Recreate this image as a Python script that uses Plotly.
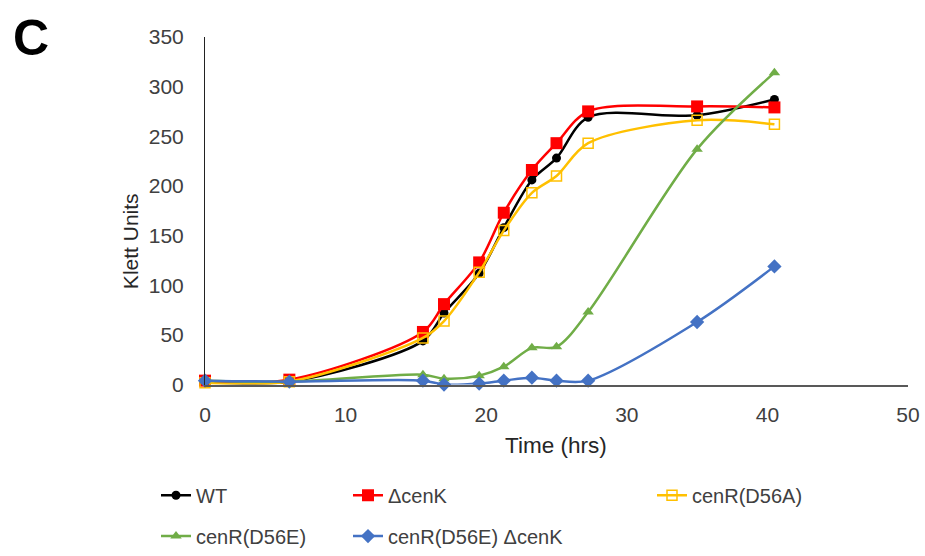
import plotly.graph_objects as go

# Sampling times (hours)
time_hrs = [0, 6, 15.5, 17, 19.5, 21.25, 23.25, 25, 27.25, 35, 40.5]

# Klett readings per strain
wt = [3, 3, 44, 72, 112, 158, 206, 228, 269, 271, 287]
delta_cenk = [4, 5, 53, 81, 123, 173, 216, 243, 275, 280, 279]
cenr_d56a = [2, 3, 47, 64, 113, 155, 193, 210, 243, 266, 262]
cenr_d56e = [4, 3, 10, 6, 9, 18, 37, 38, 73, 237, 314]
cenr_d56e_delta_cenk = [4, 3, 4, 0, 1, 4, 7, 4, 4, 63, 119]

x_ticks = [0, 10, 20, 30, 40, 50]
y_ticks = [0, 50, 100, 150, 200, 250, 300, 350]

FONT = "Liberation Sans, Arial, sans-serif"
TEXT = "#404040"
W, H = 925, 556
# Plot frame in pixels: left, right, top, bottom
PL, PR, PT, PB = 205, 908, 37, 386


def fx(px):
    return px / W


def fy(py):
    return 1 - py / H


series = [
    ("WT", wt, "#000000", dict(symbol="circle", size=9), "legend"),
    ("\u0394cenK", delta_cenk, "#FF0000", dict(symbol="square", size=12), "legend2"),
    ("cenR(D56A)", cenr_d56a, "#FFC000",
     dict(symbol="square-open", size=10, line=dict(width=1.5)), "legend3"),
    ("cenR(D56E)", cenr_d56e, "#70AD47", dict(symbol="triangle-up", size=10), "legend4"),
    ("cenR(D56E) \u0394cenK", cenr_d56e_delta_cenk, "#4472C4",
     dict(symbol="diamond", size=11), "legend5"),
]

fig = go.Figure()
for name, vals, color, marker, leg in series:
    fig.add_trace(go.Scatter(
        x=time_hrs, y=vals, name=name, mode="lines+markers",
        line=dict(color=color, width=2.5, shape="spline", smoothing=0.9),
        marker=dict(color=color, **marker),
        cliponaxis=False, legend=leg,
    ))

# Legend entries: three columns, two rows beneath the axes
col_px = [156, 348, 652]
row_px = [497, 538]
legend_pos = {
    "legend": (col_px[0], row_px[0]),
    "legend2": (col_px[1], row_px[0]),
    "legend3": (col_px[2], row_px[0]),
    "legend4": (col_px[0], row_px[1]),
    "legend5": (col_px[1], row_px[1]),
}
legend_layout = {}
for key, (px, py) in legend_pos.items():
    legend_layout[key] = dict(
        x=fx(px), y=fy(py), xanchor="left", yanchor="middle",
        bgcolor="rgba(0,0,0,0)", borderwidth=0,
        font=dict(family=FONT, size=20, color=TEXT),
        itemwidth=30,
    )

fig.update_layout(
    width=W, height=H,
    margin=dict(l=0, r=0, t=0, b=0),
    paper_bgcolor="white", plot_bgcolor="white",
    font=dict(family=FONT, color=TEXT),
    showlegend=True,
    **legend_layout,
)

fig.update_xaxes(
    domain=[fx(PL), fx(PR)],
    range=[0, 50], tickvals=x_ticks, ticktext=[str(v) for v in x_ticks],
    showgrid=False, zeroline=False,
    showline=True, linecolor="#595959", linewidth=1.5,
    ticks="outside", ticklen=10, tickcolor="rgba(0,0,0,0)",
    tickfont=dict(family=FONT, size=21, color=TEXT),
    automargin=False,
)
fig.update_yaxes(
    domain=[fy(PB), fy(PT)],
    range=[0, 350], tickvals=y_ticks, ticktext=[str(v) for v in y_ticks],
    showgrid=False, zeroline=False,
    showline=True, linecolor="#222222", linewidth=1,
    ticks="outside", ticklen=16, tickcolor="rgba(0,0,0,0)",
    tickfont=dict(family=FONT, size=21, color=TEXT),
    automargin=False,
)

# Axis titles
fig.add_annotation(
    text="Time (hrs)", xref="paper", yref="paper",
    x=fx(556), y=fy(447), xanchor="center", yanchor="middle",
    showarrow=False,
    font=dict(family=FONT, size=22.5, color="#262626"),
)
fig.add_annotation(
    text="Klett Units", xref="paper", yref="paper",
    x=fx(130), y=fy(242), xanchor="center", yanchor="middle",
    textangle=-90, showarrow=False,
    font=dict(family=FONT, size=21, color="#262626"),
)

# Panel letter
fig.add_annotation(
    text="<b>C</b>", xref="paper", yref="paper",
    x=fx(31), y=fy(38), xanchor="center", yanchor="middle",
    showarrow=False,
    font=dict(family=FONT, size=50, color="#000000"),
)

fig.write_html("out.html")
